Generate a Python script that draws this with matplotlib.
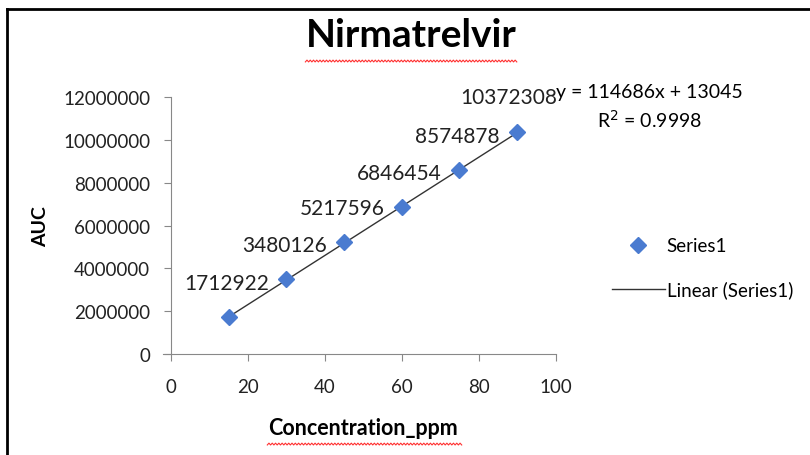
import numpy as np
import matplotlib.pyplot as plt
from matplotlib.lines import Line2D
from matplotlib.ticker import FuncFormatter

plt.rcParams['font.family'] = ['Lato', 'DejaVu Sans']

conc = [15, 30, 45, 60, 75, 90]
auc = [1712922, 3480126, 5217596, 6846454, 8574878, 10372308]
equation = "y = 114686x + 13045"
r_squared = "R$^2$ = 0.9998"

fig = plt.figure(figsize=(8.1, 4.56), dpi=100)
ax = fig.add_axes([0.211, 0.2215, 0.475, 0.5635])

# trendline from least squares fit
slope, intercept = np.polyfit(conc, auc, 1)
xs = np.array([min(conc), max(conc)])
ax.plot(xs, slope * xs + intercept, color='#333333', lw=1.0, zorder=2)
ax.plot(conc, auc, linestyle='none', marker='D', markersize=8,
        color='#4a7bd0', markeredgecolor='#4a7bd0', zorder=3)

for x, y in zip(conc, auc):
    ax.annotate(str(y), (x, y), xytext=(29, 25), textcoords='offset points',
                ha='right', va='center', fontsize=15, color='#222222')

ax.set_xlim(0, 100)
ax.set_ylim(0, 12000000)
ax.set_xticks(range(0, 101, 20))
ax.set_yticks(range(0, 12000001, 2000000))
ax.yaxis.set_major_formatter(FuncFormatter(lambda v, p: f"{int(v)}"))
ax.tick_params(labelsize=13.5, colors='#222222', length=5, color='#888888')
ax.tick_params(axis='x', pad=12)
ax.tick_params(axis='y', pad=10)
for s in ['top', 'right']:
    ax.spines[s].set_visible(False)
for s in ['left', 'bottom']:
    ax.spines[s].set_color('#888888')
ax.spines['bottom'].set_bounds(-2, 100)
ax.set_xlabel("Concentration_ppm", fontsize=15.5, fontweight='bold', labelpad=16)
ax.set_ylabel("AUC", fontsize=14, fontweight='bold', labelpad=10)

fig.text(0.508, 0.922, "Nirmatrelvir", ha='center', va='center',
         fontsize=28, fontweight='bold')
fig.text(0.802, 0.797, equation, ha='center', va='center', fontsize=14)
fig.text(0.802, 0.737, r_squared, ha='center', va='center', fontsize=14)

handles = [Line2D([], [], linestyle='none', marker='D', markersize=8, color='#4a7bd0'),
           Line2D([], [], color='#333333', lw=1.0)]
fig.legend(handles, ["Series1", "Linear (Series1)"], loc='center left',
           bbox_to_anchor=(0.735, 0.41), frameon=False, fontsize=13.5,
           handlelength=2.8, handletextpad=0.1, labelspacing=1.4)

# spell-check squiggles under title and x label
def squiggle(x0, x1, y):
    n = int((x1 - x0) / 0.004)
    xx = np.linspace(x0, x1, n * 2 + 1)
    yy = y + 0.004 * (np.arange(len(xx)) % 2)
    fig.add_artist(Line2D(xx, yy, color='#ff3030', lw=0.8))

squiggle(0.377, 0.638, 0.862)
squiggle(0.33, 0.57, 0.022)

# frame lines at top and left
fig.add_artist(Line2D([0.009, 1.0], [0.978, 0.978], color='black', lw=2))
fig.add_artist(Line2D([0.009, 0.009], [0.0, 0.978], color='black', lw=2))

fig.savefig("out.png", dpi=100)
